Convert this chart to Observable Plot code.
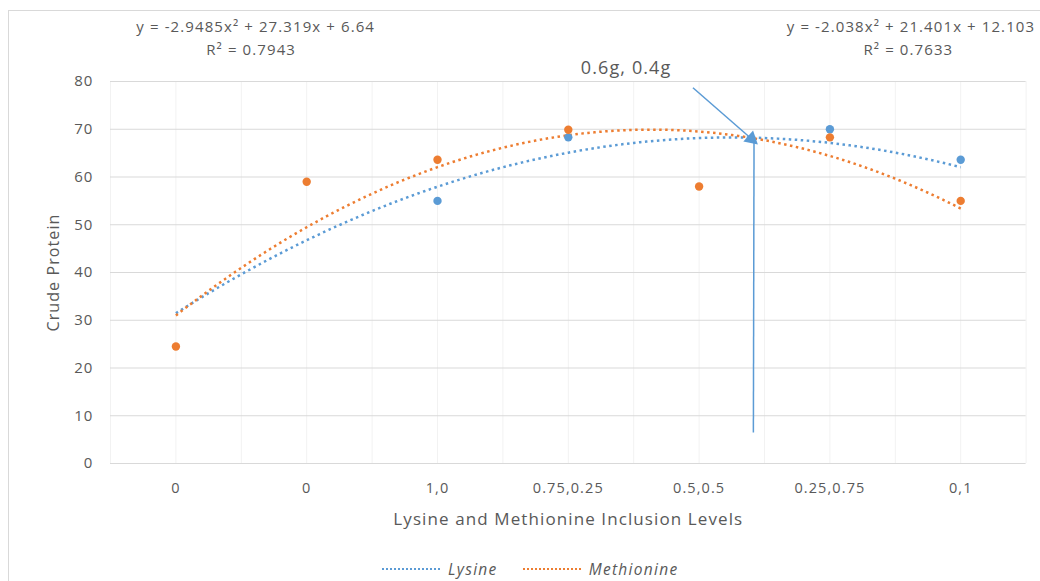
<!DOCTYPE html>
<html>
<head>
<meta charset="utf-8">
<script src="https://cdn.jsdelivr.net/npm/d3@7"></script>
<script src="https://cdn.jsdelivr.net/npm/@observablehq/plot@0.6"></script>
<style>
  html, body { margin: 0; padding: 0; background: #fff; }
  #wrap { position: relative; width: 1040px; height: 581px; overflow: hidden; font-family: "Open Sans", Lato, sans-serif; }
  #frame { position: absolute; left: 8px; top: 10px; width: 1100px; height: 700px; border: 1px solid #d9d9d9; box-sizing: border-box; }
  #chart { position: absolute; left: 0; top: 0; }
  #chart svg text { letter-spacing: 1.1px; }
  #legend { position: absolute; top: 560px; left: 382px; display: flex; align-items: center; font-size: 15.5px; letter-spacing: 1.3px; font-style: italic; color: #595959; white-space: nowrap; line-height: 18px; }
  .sw { display: inline-block; width: 58px; height: 0; border-top: 2.5px dotted; margin-right: 8px; }
</style>
</head>
<body>
<div id="wrap">
  <div id="frame"></div>
  <div id="chart"></div>
  <div id="legend"></div>
</div>
<script>
// ---- data ----
const categories = ["0", "0", "1,0", "0.75,0.25", "0.5,0.5", "0.25,0.75", "0,1"];
const lysine     = [null, null, 55, 68.3, null, 70, 63.6];
const methionine = [24.5, 59, 63.6, 69.9, 58, 68.3, 55];
// polynomial trendline coefficients as printed on the chart [a, b, c] for a x^2 + b x + c
const lysineFit     = [-2.038, 21.401, 12.103];
const methionineFit = [-2.9485, 27.319, 6.64];
const lysineEq      = ["y = -2.038x\u00B2 + 21.401x + 12.103", "R\u00B2 = 0.7633"];
const methionineEq  = ["y = -2.9485x\u00B2 + 27.319x + 6.64", "R\u00B2 = 0.7943"];
const seriesNames = ["Lysine", "Methionine"];
const colors = ["#5b9bd5", "#ed7d31"];
const yTicks = [0, 10, 20, 30, 40, 50, 60, 70, 80];
// annotation
const annotationText = "0.6g, 0.4g";
const arrowFrom = {x: 4.953, y: 78.7};
const arrowTo   = {x: 5.40, y: 68.0};
const dropTop   = {x: 5.42, y: 67.6};
const dropBottom= {x: 5.415, y: 6.5};

// ---- build tables ----
const pts = [];
categories.forEach((c, i) => {
  if (lysine[i] != null) pts.push({x: i + 1, y: lysine[i], s: seriesNames[0]});
  if (methionine[i] != null) pts.push({x: i + 1, y: methionine[i], s: seriesNames[1]});
});
const xs = d3.range(1, 7.0001, 0.05);
const curve = (coef, name) => xs.map(x => ({x, y: coef[0] * x * x + coef[1] * x + coef[2], s: name}));
const trend = [...curve(lysineFit, seriesNames[0]), ...curve(methionineFit, seriesNames[1])];
const halfGrid = d3.range(0.5, 7.5001, 0.5);

const gray = "#595959";
const chart = Plot.plot({
  width: 1040,
  height: 560,
  marginLeft: 110,
  marginRight: 14.4,
  marginTop: 81,
  marginBottom: 97,
  style: {fontFamily: "'Open Sans', Lato, sans-serif", color: gray, background: "transparent"},
  x: {domain: [0.5, 7.5]},
  y: {domain: [0, 80]},
  color: {domain: seriesNames, range: colors},
  marks: [
    Plot.ruleX(halfGrid, {stroke: "#f2f2f2", strokeWidth: 1}),
    Plot.ruleY(yTicks, {stroke: "#d9d9d9", strokeWidth: 1}),
    Plot.axisX(d3.range(1, 8), {tickSize: 0, tickPadding: 19, fontSize: 14.5, fill: gray, tickFormat: d => categories[d - 1], label: null}),
    Plot.axisY(yTicks, {tickSize: 0, tickPadding: 17, fontSize: 15, fill: gray, label: null}),
    Plot.text(["Lysine and Methionine Inclusion Levels"], {frameAnchor: "bottom", dy: 61, fontSize: 17, fill: gray, textAnchor: "middle"}),
    Plot.text(["Crude Protein"], {frameAnchor: "left", dx: -57, rotate: -90, fontSize: 16, fill: gray, textAnchor: "middle"}),
    Plot.line(trend, {x: "x", y: "y", z: "s", stroke: "s", strokeWidth: 2.5, strokeDasharray: "2.5,3.5", strokeLinecap: "butt"}),
    Plot.dot(pts, {x: "x", y: "y", fill: "s", r: 4.2}),
    Plot.link([{}], {x1: () => arrowFrom.x, y1: () => arrowFrom.y, x2: () => arrowTo.x, y2: () => arrowTo.y, stroke: colors[0], strokeWidth: 1.5}),
    Plot.dot([arrowTo], {x: "x", y: "y", symbol: "triangle", r: 5.5, fill: colors[0], rotate: 131}),
    Plot.link([{}], {x1: () => dropTop.x, y1: () => dropTop.y, x2: () => dropBottom.x, y2: () => dropBottom.y, stroke: colors[0], strokeWidth: 1.5}),
    Plot.text([annotationText], {x: () => 4.096, y: () => 82.7, textAnchor: "start", fontSize: 18, fill: gray}),
    Plot.text([methionineEq[0]], {x: () => 1.61, y: () => 91.3, fontSize: 15, fill: gray}),
    Plot.text([methionineEq[1]], {x: () => 1.575, y: () => 86.5, fontSize: 15, fill: gray}),
    Plot.text([lysineEq[0]], {x: () => 6.62, y: () => 91.3, fontSize: 15, fill: gray}),
    Plot.text([lysineEq[1]], {x: () => 6.60, y: () => 86.5, fontSize: 15, fill: gray})
  ]
});
document.getElementById("chart").appendChild(chart);

const lg = document.getElementById("legend");
seriesNames.forEach((n, i) => {
  const item = document.createElement("span");
  item.style.display = "inline-flex";
  item.style.alignItems = "center";
  item.style.marginRight = i === 0 ? "25px" : "0";
  const sw = document.createElement("span");
  sw.className = "sw";
  sw.style.borderTopColor = colors[i];
  item.appendChild(sw);
  item.appendChild(document.createTextNode(n));
  lg.appendChild(item);
});
</script>
</body>
</html>
